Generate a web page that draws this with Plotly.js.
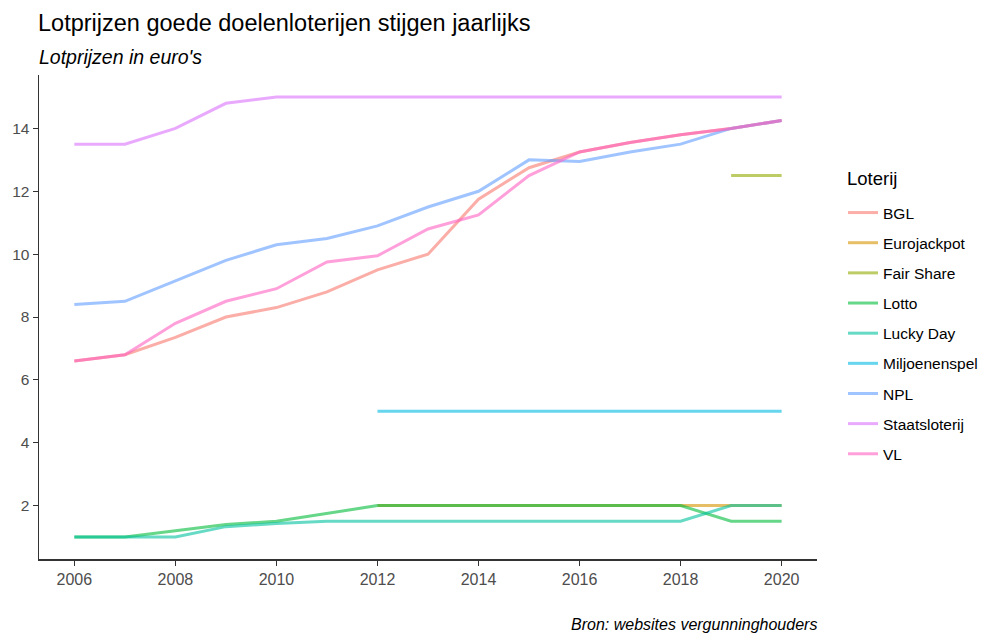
<!DOCTYPE html>
<html>
<head>
<meta charset="utf-8">
<script src="https://cdn.plot.ly/plotly-3.0.1.min.js"></script>
<style>html,body{margin:0;padding:0;background:#fff;}#chart{width:997px;height:634px;}</style>
</head>
<body>
<div id="chart"></div>
<script>
const years = [2006,2007,2008,2009,2010,2011,2012,2013,2014,2015,2016,2017,2018,2019,2020];
const seriesNames = ["BGL","Eurojackpot","Fair Share","Lotto","Lucky Day","Miljoenenspel","NPL","Staatsloterij","VL"];
const bgl = [6.6,6.8,7.35,8.0,8.3,8.8,9.5,10.0,11.75,12.75,13.25,13.55,13.8,14.0,14.25];
const eurojackpot = [null,null,null,null,null,null,2.0,2.0,2.0,2.0,2.0,2.0,2.0,2.0,2.0];
const fairShare = [null,null,null,null,null,null,null,null,null,null,null,null,null,12.5,12.5];
const lotto = [1.0,1.0,1.2,1.4,1.5,1.75,2.0,2.0,2.0,2.0,2.0,2.0,2.0,1.5,1.5];
const luckyDay = [1.0,1.0,1.0,1.33,1.43,1.5,1.5,1.5,1.5,1.5,1.5,1.5,1.5,2.0,2.0];
const miljoenenspel = [null,null,null,null,null,null,5.0,5.0,5.0,5.0,5.0,5.0,5.0,5.0,5.0];
const npl = [8.4,8.5,9.15,9.8,10.3,10.5,10.9,11.5,12.0,13.0,12.95,13.25,13.5,14.0,14.25];
const staatsloterij = [13.5,13.5,14.0,14.8,15.0,15.0,15.0,15.0,15.0,15.0,15.0,15.0,15.0,15.0,15.0];
const vl = [6.6,6.8,7.8,8.5,8.9,9.75,9.95,10.8,11.25,12.5,13.25,13.55,13.8,14.0,14.25];
const xTicks = [2006,2008,2010,2012,2014,2016,2018,2020];
const yTicks = [2,4,6,8,10,12,14];
const colors = ["#F8766D","#D39200","#93AA00","#00BA38","#00C19F","#00B9E3","#619CFF","#DB72FB","#FF61C3"];

const values = [bgl,eurojackpot,fairShare,lotto,luckyDay,miljoenenspel,npl,staatsloterij,vl];
const FONT = "Liberation Sans, Arial, sans-serif";

const traces = seriesNames.map((name,i)=>({
  x: years, y: values[i], name: name, type: 'scatter', mode: 'lines',
  line: {color: colors[i], width: 3}, opacity: 0.6, legendgroup: 'g'+i,
  connectgaps: false, hoverinfo: 'x+y+name'
}));

const T = 75, B = 75, L = 39, R = 180;
const H = 634 - T - B, W = 997 - L - R;
const py = p => (634 - B - p) / H;   // pixel y -> paper y
const px = p => (p - L) / W;         // pixel x -> paper x

const layout = {
  width: 997, height: 634,
  margin: {l: L, r: R, t: T, b: B},
  paper_bgcolor: '#fff', plot_bgcolor: '#fff',
  font: {family: FONT, color: '#000'},
  title: {text: "Lotprijzen goede doelenloterijen stijgen jaarlijks", font: {family: FONT, size: 23.5, color: '#000'},
    xref: 'container', yref: 'container', x: 38/997, xanchor: 'left', y: 1-23/634, yanchor: 'middle'},
  xaxis: {range: [2005.3, 2020.7], tickvals: xTicks, ticktext: xTicks.map(String), showgrid: false, zeroline: false,
    showline: true, linecolor: '#333', linewidth: 1.5, ticks: 'outside', ticklen: 5, tickcolor: '#333', tickwidth: 1,
    tickfont: {family: FONT, size: 16, color: '#4D4D4D'}},
  yaxis: {range: [0.3, 15.7], tickvals: yTicks, ticktext: yTicks.map(String), showgrid: false, zeroline: false,
    showline: true, linecolor: '#333', linewidth: 1.5, ticks: 'outside', ticklen: 5, tickcolor: '#333', tickwidth: 1,
    tickfont: {family: FONT, size: 15.5, color: '#4D4D4D'}},
  legend: {x: px(843), xanchor: 'left', y: py(196), yanchor: 'top', tracegroupgap: 7,
    font: {family: FONT, size: 15.5, color: '#000'}, itemwidth: 30, bgcolor: 'rgba(0,0,0,0)'},
  annotations: [
    {text: "<i>Lotprijzen in euro's</i>", xref: 'paper', yref: 'paper', x: px(37), xanchor: 'left', y: py(57), yanchor: 'middle',
      showarrow: false, font: {family: FONT, size: 19.5, color: '#000'}},
    {text: "Loterij", xref: 'paper', yref: 'paper', x: px(845), xanchor: 'left', y: py(178), yanchor: 'middle',
      showarrow: false, font: {family: FONT, size: 18.5, color: '#000'}},
    {text: "<i>Bron: websites vergunninghouders</i>", xref: 'paper', yref: 'paper', x: 1.002, xanchor: 'right', y: py(624), yanchor: 'middle',
      showarrow: false, font: {family: FONT, size: 16, color: '#000'}}
  ],
  showlegend: true
};

Plotly.newPlot('chart', traces, layout, {displayModeBar: false, staticPlot: true});
</script>
</body>
</html>
